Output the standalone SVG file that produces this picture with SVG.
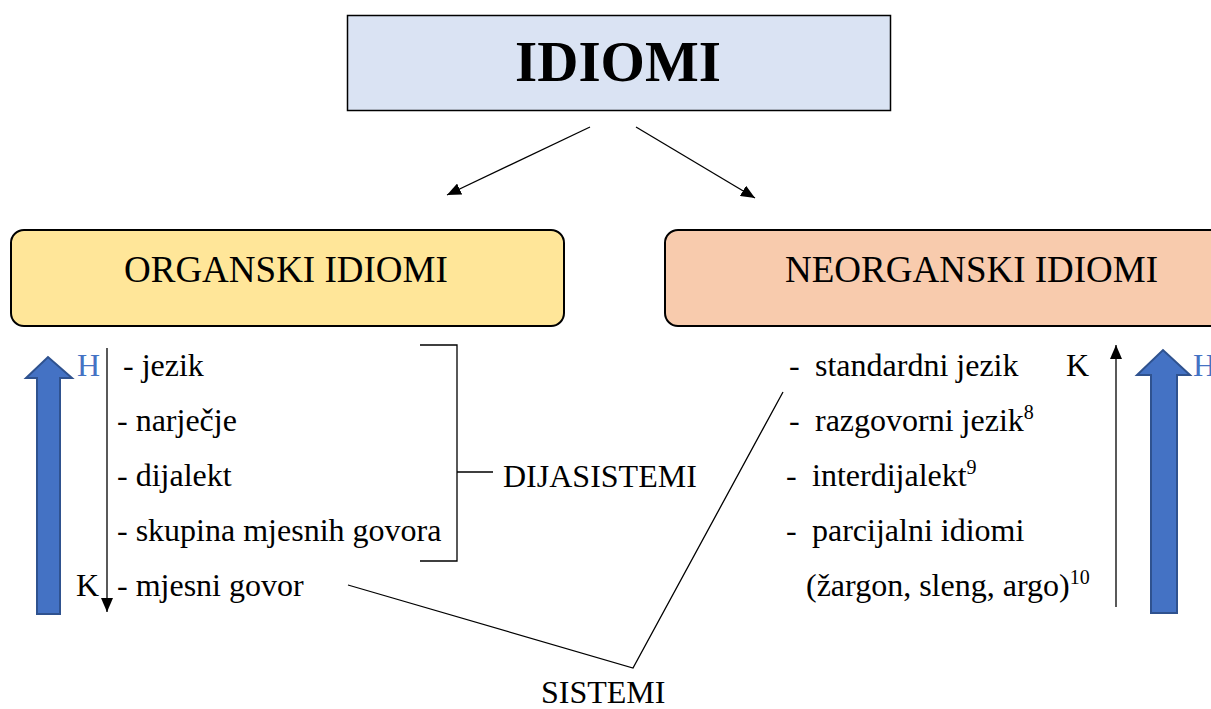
<svg xmlns="http://www.w3.org/2000/svg" width="1211" height="709" viewBox="0 0 1211 709">
<defs>
<style>
.t{font-family:"Liberation Serif","Times New Roman",serif;font-size:32px;fill:#000}
.h{font-family:"Liberation Serif","Times New Roman",serif;font-size:37px;fill:#000}
.ttl{font-family:"Liberation Serif","Times New Roman",serif;font-size:57px;font-weight:bold;fill:#000}
.b{fill:#4472c4}
.sup{font-size:20px}
.ln{stroke:#000;stroke-width:1.3;fill:none}
.big{fill:#4472c4;stroke:#2f528f;stroke-width:2}
</style>
<marker id="ah2" viewBox="0 0 14 12" refX="14" refY="6" markerWidth="14" markerHeight="12" markerUnits="userSpaceOnUse" orient="auto">
<path d="M0,0 L14,6 L0,12 Z" fill="#000"/>
</marker>
</defs>
<rect width="1211" height="709" fill="#fff"/>

<g id="idiomi">
<rect x="347.5" y="15.5" width="543" height="95" fill="#dae3f3" stroke="#000" stroke-width="1.5"/>
<text class="ttl" x="618" y="81" text-anchor="middle">IDIOMI</text>
</g>

<g id="organski">
<rect x="11" y="230" width="553" height="96" rx="13" fill="#ffe699" stroke="#000" stroke-width="2"/>
<text class="h" x="124" y="282">ORGANSKI IDIOMI</text>
</g>

<g id="neorganski">
<rect x="665" y="230" width="560" height="96" rx="13" fill="#f8cbad" stroke="#000" stroke-width="2"/>
<text class="h" x="785" y="282">NEORGANSKI IDIOMI</text>
</g>

<g id="connectors">
<line class="ln" x1="590" y1="127" x2="447" y2="195" marker-end="url(#ah2)"/>
<line class="ln" x1="636" y1="127" x2="755" y2="198" marker-end="url(#ah2)"/>
<line class="ln" x1="107" y1="348" x2="107" y2="612" marker-end="url(#ah2)"/>
<line class="ln" x1="1116" y1="607" x2="1116" y2="345" marker-end="url(#ah2)"/>
<path class="ln" d="M420,345 H457 V561 H420 M457,472 H493"/>
<path class="ln" d="M348,585 L633,668 L783,392"/>
<path class="big" d="M37,614 V378 H26 L48,357 L72,378 H60 V614 Z"/>
<path class="big" d="M1151,613 V375 H1137 L1163,350 L1190,375 H1177 V613 Z"/>
</g>

<g id="organski-list">
<text class="t b" x="77" y="376">H</text>
<text class="t" x="76" y="596">K</text>
<text class="t" x="123" y="376">- jezik</text>
<text class="t" x="117" y="431">- narječje</text>
<text class="t" x="117" y="486">- dijalekt</text>
<text class="t" x="117" y="541">- skupina mjesnih govora</text>
<text class="t" x="117" y="596">- mjesni govor</text>
</g>

<g id="dijasistemi">
<text class="t" x="503" y="487">DIJASISTEMI</text>
</g>

<g id="sistemi">
<text class="t" x="541" y="703">SISTEMI</text>
</g>

<g id="neorganski-list">
<text class="t" x="789" y="376">-</text>
<text class="t" x="815" y="376">standardni jezik</text>
<text class="t" x="1066" y="376">K</text>
<text class="t b" x="1193" y="376">H</text>
<text class="t" x="789" y="431">-</text>
<text class="t" x="815" y="431">razgovorni jezik<tspan class="sup" dy="-12">8</tspan></text>
<text class="t" x="786" y="486">-</text>
<text class="t" x="812" y="486">interdijalekt<tspan class="sup" dy="-12">9</tspan></text>
<text class="t" x="786" y="541">-</text>
<text class="t" x="812" y="541">parcijalni idiomi</text>
<text class="t" x="806" y="596">(žargon, sleng, argo)<tspan class="sup" dy="-12">10</tspan></text>
</g>
</svg>
